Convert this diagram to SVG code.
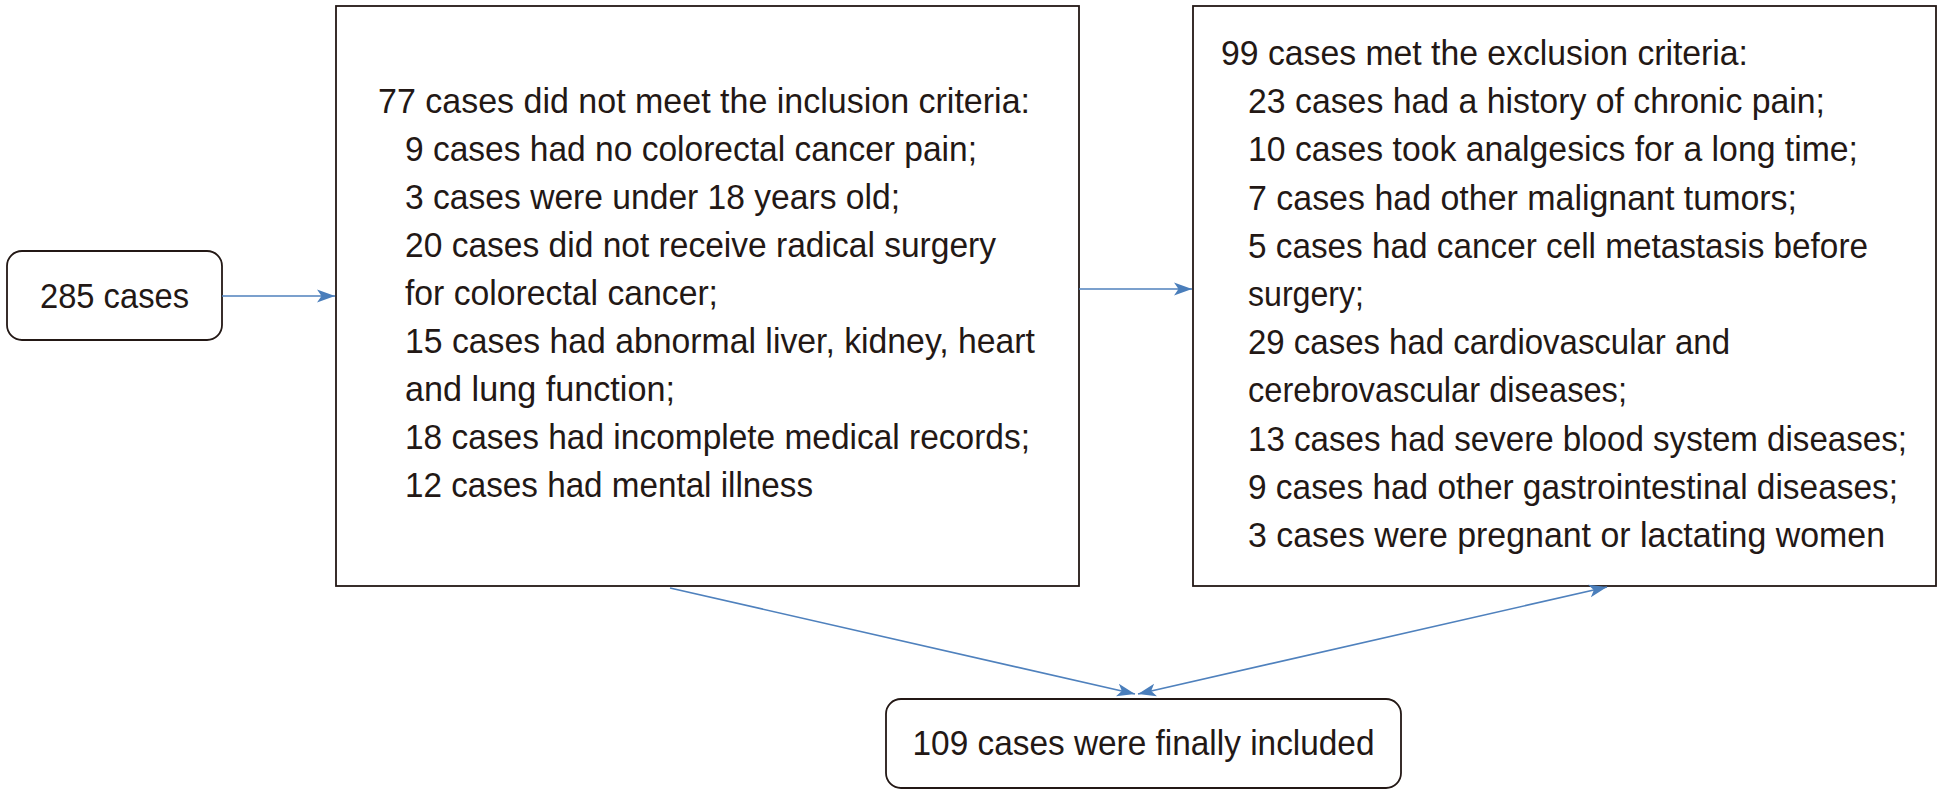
<svg xmlns="http://www.w3.org/2000/svg" width="1944" height="796" viewBox="0 0 1944 796">
<style>
.box{fill:#ffffff;stroke:#231815;stroke-width:1.8}
.t{font-family:"Liberation Sans",Arial,sans-serif;font-size:34.5px;fill:#231815}
.c{text-anchor:middle}
.conn{stroke:#4f81bd;stroke-width:1.6;fill:none}
</style>
<defs>
<marker id="ah" markerUnits="userSpaceOnUse" markerWidth="20" markerHeight="14" refX="18" refY="7" orient="auto-start-reverse">
<path d="M0,0.5 L18,7 L0,13.5 L4.5,7 Z" fill="#4a7ebb"/>
</marker>
</defs>
<rect width="1944" height="796" fill="#ffffff"/>
<g id="n285">
<rect class="box" x="7" y="251" width="215" height="89" rx="15"/>
<text class="t c" x="114.5" y="308" textLength="149" lengthAdjust="spacingAndGlyphs">285 cases</text>
</g>
<g id="inclusion">
<rect class="box" x="336" y="6" width="743" height="580"/>
<text class="t" x="378" y="113" textLength="652" lengthAdjust="spacingAndGlyphs">77 cases did not meet the inclusion criteria:</text>
<text class="t" x="405" y="161" textLength="572" lengthAdjust="spacingAndGlyphs">9 cases had no colorectal cancer pain;</text>
<text class="t" x="405" y="209" textLength="495" lengthAdjust="spacingAndGlyphs">3 cases were under 18 years old;</text>
<text class="t" x="405" y="257" textLength="591" lengthAdjust="spacingAndGlyphs">20 cases did not receive radical surgery</text>
<text class="t" x="405" y="305" textLength="313" lengthAdjust="spacingAndGlyphs">for colorectal cancer;</text>
<text class="t" x="405" y="353" textLength="630" lengthAdjust="spacingAndGlyphs">15 cases had abnormal liver, kidney, heart</text>
<text class="t" x="405" y="401" textLength="270" lengthAdjust="spacingAndGlyphs">and lung function;</text>
<text class="t" x="405" y="449" textLength="625" lengthAdjust="spacingAndGlyphs">18 cases had incomplete medical records;</text>
<text class="t" x="405" y="497" textLength="408" lengthAdjust="spacingAndGlyphs">12 cases had mental illness</text>
</g>
<g id="exclusion">
<rect class="box" x="1193" y="6" width="743" height="580"/>
<text class="t" x="1221" y="65" textLength="527" lengthAdjust="spacingAndGlyphs">99 cases met the exclusion criteria:</text>
<text class="t" x="1248" y="113.2" textLength="577" lengthAdjust="spacingAndGlyphs">23 cases had a history of chronic pain;</text>
<text class="t" x="1248" y="161.4" textLength="610" lengthAdjust="spacingAndGlyphs">10 cases took analgesics for a long time;</text>
<text class="t" x="1248" y="209.6" textLength="549" lengthAdjust="spacingAndGlyphs">7 cases had other malignant tumors;</text>
<text class="t" x="1248" y="257.8" textLength="620" lengthAdjust="spacingAndGlyphs">5 cases had cancer cell metastasis before</text>
<text class="t" x="1248" y="306" textLength="116" lengthAdjust="spacingAndGlyphs">surgery;</text>
<text class="t" x="1248" y="354.2" textLength="482" lengthAdjust="spacingAndGlyphs">29 cases had cardiovascular and</text>
<text class="t" x="1248" y="402.4" textLength="379" lengthAdjust="spacingAndGlyphs">cerebrovascular diseases;</text>
<text class="t" x="1248" y="450.6" textLength="659" lengthAdjust="spacingAndGlyphs">13 cases had severe blood system diseases;</text>
<text class="t" x="1248" y="498.8" textLength="650" lengthAdjust="spacingAndGlyphs">9 cases had other gastrointestinal diseases;</text>
<text class="t" x="1248" y="547" textLength="637" lengthAdjust="spacingAndGlyphs">3 cases were pregnant or lactating women</text>
</g>
<g id="final">
<rect class="box" x="886" y="699" width="515" height="89" rx="15"/>
<text class="t c" x="1143.5" y="755" textLength="462" lengthAdjust="spacingAndGlyphs">109 cases were finally included</text>
</g>
<g id="connectors">
<line class="conn" x1="222" y1="296" x2="335" y2="296" marker-end="url(#ah)"/>
<line class="conn" x1="1079" y1="289" x2="1192" y2="289" marker-end="url(#ah)"/>
<line class="conn" x1="670" y1="588" x2="1135" y2="694" marker-end="url(#ah)"/>
<line class="conn" x1="1607" y1="587" x2="1138" y2="694" marker-start="url(#ah)" marker-end="url(#ah)"/>
</g>
</svg>
